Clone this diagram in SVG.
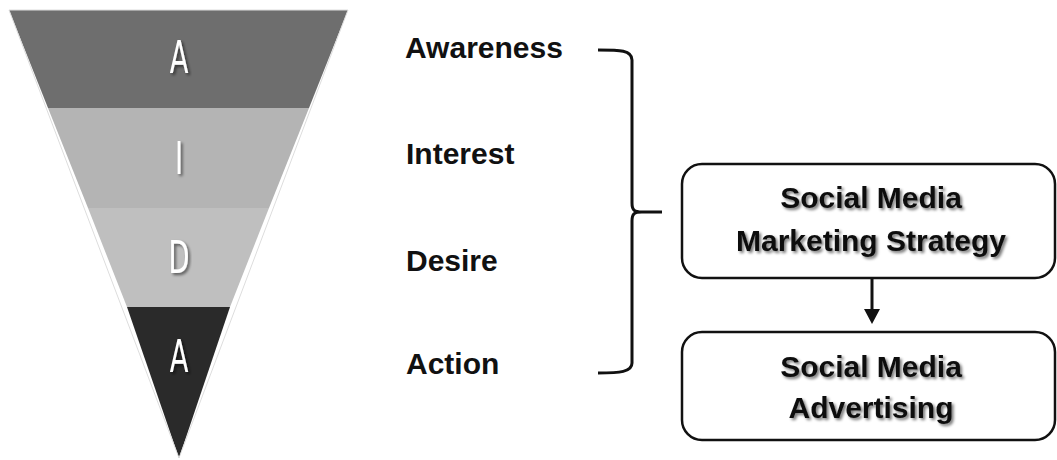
<svg xmlns="http://www.w3.org/2000/svg" width="1057" height="460" viewBox="0 0 1057 460">
  <style>
    .stage { font-family: "DejaVu Sans", "Liberation Sans", sans-serif; font-weight: normal; font-size: 44px; fill: #ffffff; text-anchor: middle; }
    .label { font-family: "Liberation Sans", Arial, sans-serif; font-weight: bold; font-size: 30px; fill: #111111; }
    .boxtext { font-family: "Liberation Sans", Arial, sans-serif; font-weight: bold; font-size: 30px; fill: #111111; text-anchor: middle; }
    .box { fill: #ffffff; stroke: #111111; stroke-width: 2.5; }
    .conn { fill: none; stroke: #111111; stroke-width: 3; }
  </style>
  <defs>
    <filter id="softShadow" x="-10%" y="-20%" width="120%" height="150%">
      <feGaussianBlur in="SourceAlpha" stdDeviation="1.6"/>
      <feOffset dx="1.5" dy="2" result="b"/>
      <feComponentTransfer><feFuncA type="linear" slope="0.55"/></feComponentTransfer>
      <feMerge><feMergeNode/><feMergeNode in="SourceGraphic"/></feMerge>
    </filter>
  </defs>

  <rect width="1057" height="460" fill="#ffffff"/>

  <!-- AIDA funnel -->
  <g id="funnel">
    <polygon points="9,10 348,10 309,108 48,108" fill="#6e6e6e"/>
    <polygon points="48,108 309,108 269,208 88,208" fill="#b4b4b4"/>
    <polygon points="88,208 269,208 230,307 127,307" fill="#bfbfbf"/>
    <polygon points="127,307 230,307 179,458" fill="#2a2a2a"/>
    <polygon points="9,10 348,10 179,458" fill="none" stroke="#dddddd" stroke-width="1"/>
    <g filter="url(#softShadow)">
      <text class="stage" transform="translate(179,73) scale(0.62,1)">A</text>
      <text class="stage" transform="translate(179,174) scale(0.62,1)">I</text>
      <text class="stage" transform="translate(179,273) scale(0.62,1)">D</text>
      <text class="stage" transform="translate(179,372) scale(0.62,1)">A</text>
    </g>
  </g>

  <!-- stage labels -->
  <g id="labels">
    <text class="label" x="405" y="58">Awareness</text>
    <text class="label" x="406" y="164">Interest</text>
    <text class="label" x="406" y="271">Desire</text>
    <text class="label" x="406" y="374">Action</text>
  </g>

  <!-- strategy box -->
  <g id="strategy">
    <rect class="box" x="682" y="164" width="373" height="114" rx="20" ry="20"/>
    <g filter="url(#softShadow)">
      <text class="boxtext" x="871" y="208">Social Media</text>
      <text class="boxtext" x="871" y="251">Marketing Strategy</text>
    </g>
  </g>

  <!-- advertising box -->
  <g id="advertising">
    <rect class="box" x="682" y="332" width="373" height="108" rx="20" ry="20"/>
    <g filter="url(#softShadow)">
      <text class="boxtext" x="871" y="377">Social Media</text>
      <text class="boxtext" x="871" y="418">Advertising</text>
    </g>
  </g>

  <!-- connectors -->
  <g id="connectors">
    <path class="conn" d="M598,50 C620,50 632,50 632,60 L632,203 C632,210 634,212 642,212 L662,212 M642,212 C634,212 632,214 632,221 L632,363 C632,372 620,373 598,373"/>
    <line x1="872" y1="279" x2="872" y2="310" stroke="#111111" stroke-width="3"/>
    <polygon points="864,309 880,309 872,324" fill="#111111"/>
  </g>
</svg>
